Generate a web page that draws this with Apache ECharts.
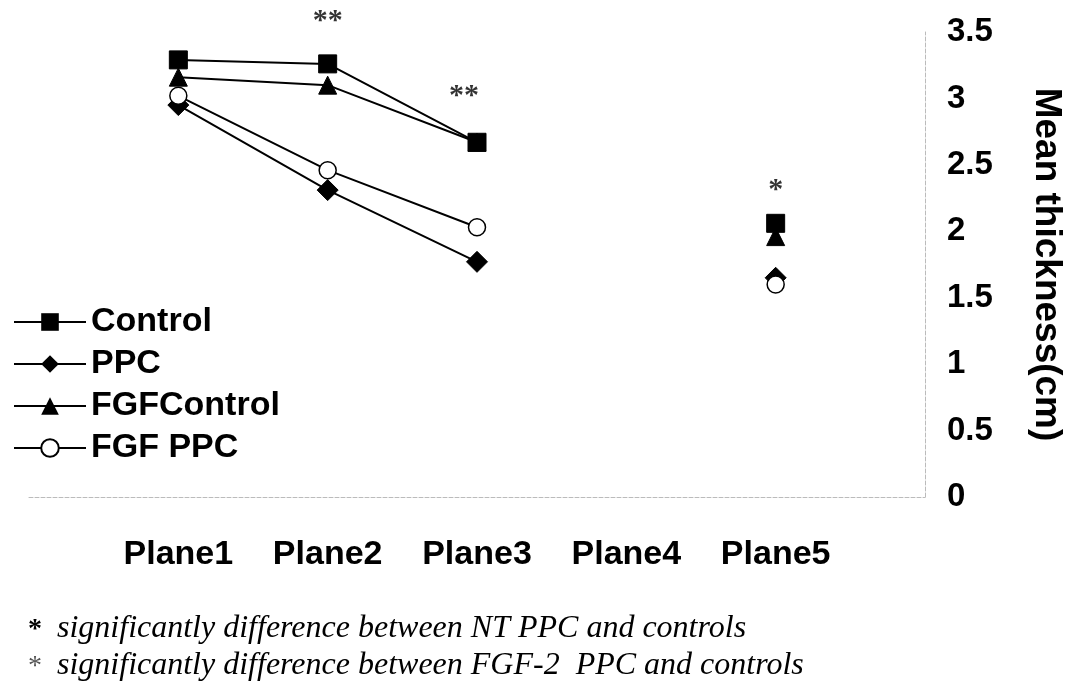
<!DOCTYPE html>
<html>
<head>
<meta charset="utf-8">
<script src="https://cdn.jsdelivr.net/npm/echarts@6/dist/echarts.min.js"></script>
<style>
  html, body { margin: 0; padding: 0; background: #fff; }
  #chart { width: 1086px; height: 688px; }
</style>
</head>
<body>
<div id="chart"></div>
<script>
// ---- data ----
const categories = ['Plane1', 'Plane2', 'Plane3', 'Plane4', 'Plane5'];
const controlVals    = [3.29, 3.26, 2.67, null, 2.06];
const ppcVals        = [2.95, 2.31, 1.77, null, 1.65];
const fgfControlVals = [3.16, 3.10, 2.67, null, 1.96];
const fgfPpcVals     = [3.02, 2.46, 2.03, null, 1.60];
const yTicks = [0, 0.5, 1, 1.5, 2, 2.5, 3, 3.5];
const annotCats  = ['Plane2', 'Plane3', 'Plane5'];
const annotVals  = [3.58, 3.02, 2.31];
const annotTexts = ['**', '**', '*'];
const footnotes = [
  ['*', 'significantly difference between NT PPC and controls'],
  ['*', 'significantly difference between FGF-2  PPC and controls']
];

const toPts = vals => vals.map((v, i) => [i + 1, v]);

const chart = echarts.init(document.getElementById('chart'), null, { renderer: 'canvas' });

const lineBase = {
  type: 'line',
  connectNulls: false,
  lineStyle: { color: '#000', width: 2 },
  itemStyle: { color: '#000', borderColor: '#000' },
  emphasis: { disabled: true },
  animation: false,
  z: 3
};

const option = {
  backgroundColor: '#fff',
  animation: false,
  grid: { left: 29, right: 161, top: 32, bottom: 191 },
  legend: {
    orient: 'vertical',
    left: 8,
    top: 300,
    itemWidth: 72,
    itemHeight: 22,
    itemGap: 8,
    textStyle: {
      fontFamily: 'Liberation Sans, Arial, sans-serif',
      fontWeight: 'bold',
      fontSize: 34,
      lineHeight: 34,
      color: '#000'
    },
    data: ['Control', 'PPC', 'FGFControl', 'FGF PPC']
  },
  xAxis: {
    type: 'value',
    min: 0,
    max: 6,
    interval: 1,
    axisLine: { show: true, lineStyle: { color: '#bbb', width: 1, type: 'dashed' } },
    axisTick: { show: false },
    splitLine: { show: false },
    axisLabel: {
      margin: 41,
      fontFamily: 'Liberation Sans, Arial, sans-serif',
      fontWeight: 'bold',
      fontSize: 34,
      color: '#000',
      formatter: v => categories[v - 1] || ''
    }
  },
  yAxis: {
    type: 'value',
    position: 'right',
    min: yTicks[0],
    max: yTicks[yTicks.length - 1],
    interval: 0.5,
    name: 'Mean thickness(cm)',
    nameLocation: 'middle',
    nameRotate: -90,
    nameGap: 103,
    nameTextStyle: {
      fontFamily: 'Liberation Sans, Arial, sans-serif',
      fontWeight: 'bold',
      fontSize: 37,
      color: '#000'
    },
    axisLine: { show: true, onZero: false, lineStyle: { color: '#bbb', width: 1, type: 'dashed' } },
    axisTick: { show: false },
    splitLine: { show: false },
    axisLabel: {
      margin: 22,
      fontFamily: 'Liberation Sans, Arial, sans-serif',
      fontWeight: 'bold',
      fontSize: 33,
      color: '#000',
      formatter: v => String(v)
    }
  },
  series: [
    Object.assign({}, lineBase, {
      name: 'Control', data: toPts(controlVals),
      symbol: 'rect', symbolSize: 18
    }),
    Object.assign({}, lineBase, {
      name: 'PPC', data: toPts(ppcVals),
      symbol: 'diamond', symbolSize: 21
    }),
    Object.assign({}, lineBase, {
      name: 'FGFControl', data: toPts(fgfControlVals),
      symbol: 'triangle', symbolSize: 18
    }),
    Object.assign({}, lineBase, {
      name: 'FGF PPC', data: toPts(fgfPpcVals),
      symbol: 'circle', symbolSize: 17,
      itemStyle: { color: '#fff', borderColor: '#000', borderWidth: 1.5 },
      z: 4
    }),
    {
      type: 'scatter',
      name: 'annot',
      silent: true,
      clip: false,
      symbolSize: 0,
      data: annotCats.map((c, i) => ({
        value: [categories.indexOf(c) + 1, annotVals[i]],
        label: { offset: c === 'Plane3' ? [-13, 0] : [0, 0] }
      })),
      label: {
        show: true,
        position: 'inside',
        formatter: p => annotTexts[p.dataIndex],
        fontFamily: 'Liberation Serif, Times New Roman, serif',
        fontWeight: 'bold',
        fontSize: 30,
        color: '#000'
      }
    }
  ],
  graphic: footnotes.map((f, i) => ({
    type: 'group',
    left: 28,
    top: 613 + i * 37,
    children: [
      {
        type: 'text',
        left: 0, top: 3,
        style: {
          text: f[0],
          fontFamily: 'Liberation Serif, Times New Roman, serif',
          fontSize: 28,
          fontWeight: i === 0 ? 'bold' : 'normal',
          fill: i === 0 ? '#000' : '#555'
        }
      },
      {
        type: 'text',
        left: 29, top: 0,
        style: {
          text: f[1],
          fontFamily: 'Liberation Serif, Times New Roman, serif',
          fontStyle: 'italic',
          fontSize: 32,
          fill: '#000'
        }
      }
    ]
  }))
};

chart.setOption(option);
</script>
</body>
</html>
